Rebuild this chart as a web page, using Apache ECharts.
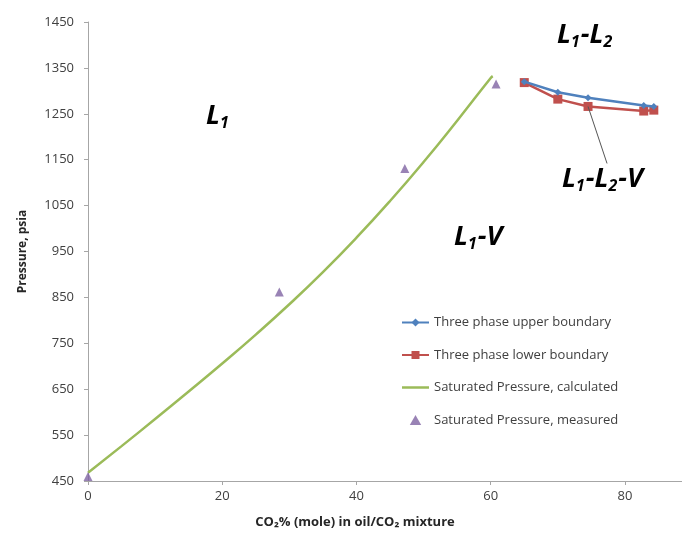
<!DOCTYPE html>
<html>
<head>
<meta charset="utf-8">
<script src="https://cdn.jsdelivr.net/npm/echarts@6/dist/echarts.min.js"></script>
<style>
html,body{margin:0;padding:0;background:#fff;}
#chart{width:682px;height:539px;}
</style>
</head>
<body>
<div id="chart"></div>
<script>
// CO2 mole % in the oil/CO2 mixture vs. pressure (psia)
const upperX = [65, 70, 74.5, 82.8, 84.3];
const upperP = [1320, 1297, 1285, 1268, 1266];
const lowerX = [65, 70, 74.5, 82.8, 84.3];
const lowerP = [1318, 1282, 1266, 1256, 1258];
const calcX = [0, 5, 10, 15, 20, 25, 30, 35, 40, 45, 50, 55, 60, 60.3];
const calcP = [468, 526, 585, 645, 706, 769, 835, 905, 980, 1060, 1145, 1235, 1328, 1332];
const measX = [0, 28.5, 47.2, 60.8];
const measP = [460, 862, 1131, 1315];
const seriesNames = [
  'Three phase upper boundary',
  'Three phase lower boundary',
  'Saturated Pressure, calculated',
  'Saturated Pressure, measured'
];

const pairs = (xs, ys) => xs.map((x, i) => [x, ys[i]]);
const FONT = '"Open Sans", "Noto Sans", sans-serif';

const chart = echarts.init(document.getElementById('chart'));
chart.setOption({
  animation: false,
  backgroundColor: '#fff',
  grid: { left: 88, right: 0, top: 22, bottom: 58, containLabel: false },
  xAxis: {
    type: 'value', min: 0, max: 88.5, interval: 20,
    name: 'CO₂% (mole) in oil/CO₂ mixture',
    nameLocation: 'middle', nameGap: 35,
    nameTextStyle: { fontFamily: FONT, fontWeight: 'bold', fontSize: 13, color: '#262626', padding: [0, 60, 0, 0] },
    axisLine: { lineStyle: { color: '#a6a6a6', width: 1 } },
    axisTick: { show: true, inside: false, length: 4, lineStyle: { color: '#a6a6a6' } },
    axisLabel: { fontFamily: FONT, fontSize: 13, color: '#404040', margin: 9, showMaxLabel: false },
    splitLine: { show: false }
  },
  yAxis: {
    type: 'value', min: 450, max: 1450, interval: 100,
    name: 'Pressure, psia',
    nameLocation: 'middle', nameGap: 59, nameRotate: 90,
    nameTextStyle: { fontFamily: FONT, fontWeight: 'bold', fontSize: 12, color: '#262626' },
    axisLine: { show: true, lineStyle: { color: '#a6a6a6', width: 1 } },
    axisTick: { show: true, inside: false, length: 4, lineStyle: { color: '#a6a6a6' } },
    axisLabel: { fontFamily: FONT, fontSize: 13, color: '#404040', margin: 14, formatter: v => String(v) },
    splitLine: { show: false }
  },
  legend: {
    orient: 'vertical', left: 401, top: 316, padding: 0, itemGap: 19.5,
    itemWidth: 27, itemHeight: 10,
    textStyle: { fontFamily: FONT, fontSize: 13, color: '#404040' },
    data: [
      { name: seriesNames[0] },
      { name: seriesNames[1] },
      { name: seriesNames[2], icon: 'path://M0,0 H27 V2.5 H0 Z' },
      { name: seriesNames[3], icon: 'path://M4,0 L8,7 L0,7 Z' }
    ]
  },
  series: [
    {
      name: seriesNames[0], type: 'line', data: pairs(upperX, upperP),
      symbol: 'diamond', symbolSize: 7,
      lineStyle: { color: '#4F81BD', width: 2.5 },
      itemStyle: { color: '#4F81BD' }, z: 3
    },
    {
      name: seriesNames[1], type: 'line', data: pairs(lowerX, lowerP),
      symbol: 'rect', symbolSize: 9,
      lineStyle: { color: '#C0504D', width: 2.5 },
      itemStyle: { color: '#C0504D' }, z: 2
    },
    {
      name: seriesNames[2], type: 'line', data: pairs(calcX, calcP),
      symbol: 'none', smooth: true,
      lineStyle: { color: '#9BBB59', width: 2.5 },
      itemStyle: { color: '#9BBB59' }, z: 1
    },
    {
      name: seriesNames[3], type: 'scatter', data: pairs(measX, measP),
      symbol: 'triangle', symbolSize: 9,
      itemStyle: { color: '#8064A2' }, z: 4
    }
  ]
});

// Phase region labels and the leader from the three-phase band
const rich = {
  b: { fontFamily: FONT, fontSize: 27, fontWeight: 'bold', fontStyle: 'italic', color: '#111' },
  s: { fontFamily: FONT, fontSize: 16, fontWeight: 'bold', fontStyle: 'italic', color: '#111', verticalAlign: 'bottom', padding: [13, 1, 0, 0] }
};
function label(x, y, text) {
  return { type: 'text', left: x, top: y, style: { text: text, rich: rich }, z: 10 };
}
const p0 = chart.convertToPixel({ gridIndex: 0 }, [lowerX[2], lowerP[2]]);
chart.setOption({
  graphic: [
    label(206, 103, '{b|L}{s|1}'),
    label(454, 224, '{b|L}{s|1}{b|-V}'),
    label(557, 22, '{b|L}{s|1}{b|-L}{s|2}'),
    label(562, 166, '{b|L}{s|1}{b|-L}{s|2}{b|-V}'),
    {
      type: 'line', z: 5,
      shape: { x1: p0[0], y1: p0[1], x2: p0[0] + 19, y2: p0[1] + 57 },
      style: { stroke: '#555', lineWidth: 1 }
    }
  ]
});
</script>
</body>
</html>
